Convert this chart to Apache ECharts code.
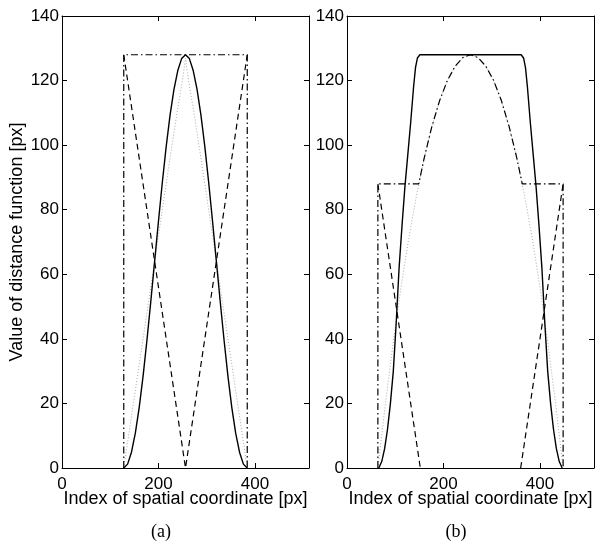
<!DOCTYPE html>
<html>
<head>
<meta charset="utf-8">
<script src="https://cdn.jsdelivr.net/npm/echarts@6/dist/echarts.min.js"></script>
<style>
  html, body { margin: 0; padding: 0; background: #fff; }
  #chart { width: 598px; height: 543px; }
</style>
</head>
<body>
<div id="chart"></div>
<script>
// ---- Panel (a) ----
const aSolidX = [128,136,144,152,160,168,176,184,192,200,208,216,224,232,240,248,256,264,272,280,288,296,304,312,320,328,336,344,352,360,368,376,384];
const aSolidY = [0,1.2,4.9,10.8,18.7,28.4,39.5,51.5,64,76.5,88.5,99.6,109.3,117.2,123.1,126.8,128,126.8,123.1,117.2,109.3,99.6,88.5,76.5,64,51.5,39.5,28.4,18.7,10.8,4.9,1.2,0];
const aDotX = [128,144,160,176,192,208,224,240,248,252,256,260,264,272,288,304,320,336,352,368,384];
const aDotY = [0,16,32,48,64,80,96,111.5,118.5,122.5,127,122.5,118.5,111.5,96,80,64,48,32,16,0];
const aDashX = [128,256,384];
const aDashY = [128,0,128];
const aDashDotX = [128,128,384,384];
const aDashDotY = [0,128,128,0];

// ---- Panel (b) ----
const bSolidX = [66,72,78,84,90,96,102,108,114,120,126,132,138,142,146,151,361,366,370,374,380,386,392,398,404,410,416,422,428,434,440,446];
const bSolidY = [0,2,6,12,20,30,45,62,75,87,97,107,118,124,127,128,128,127,124,118,107,97,87,75,62,45,30,20,12,6,2,0];
const bDotX = [64,80,96,112,128,144,160,176,192,208,224,240,256,272,288,304,320,336,352,368,384,400,416,432,448];
const bDotY = [0,20.4,39.1,56,71.1,84.4,96,105.8,113.8,120,124.4,127.1,128,127.1,124.4,120,113.8,105.8,96,84.4,71.1,56,39.1,20.4,0];
const bDashLeftX = [64,152];
const bDashLeftY = [88,0];
const bDashRightX = [360,448];
const bDashRightY = [0,88];
const bDashDotX = [64,64,148.7,160,176,192,208,224,240,256,272,288,304,320,336,352,363.3,448,448];
const bDashDotY = [0,88,88,96,105.8,113.8,120,124.4,127.1,128,127.1,124.4,120,113.8,105.8,96,88,88,0];

// Axis settings
const xMin = 0, xMax = 512, xStep = 200;
const yMin = 0, yMax = 140, yStep = 20;
const xTitle = 'Index of spatial coordinate [px]';
const yTitle = 'Value of distance function [px]';
const panelTags = ['(a)', '(b)'];

const FONT = 'Liberation Sans, Arial, Helvetica, sans-serif';
const zip = (xs, ys) => xs.map((x, i) => [x, ys[i]]);

const chart = echarts.init(document.getElementById('chart'), null, { renderer: 'canvas' });

const grids = [
  { left: 62, top: 16, width: 247, height: 452 },
  { left: 347, top: 16, width: 247, height: 452 }
];

const TICK_LEN = 5;

// Box-style axes: labelled bottom/left, tick-only top/right, all ticks pointing inward
function xAx(gi, pos, withLabels) {
  return {
    type: 'value', gridIndex: gi, position: pos, min: xMin, max: xMax, interval: xStep,
    axisLine: { show: true, onZero: false, lineStyle: { color: '#000', width: 1 } },
    axisTick: { show: true, inside: true, length: TICK_LEN, lineStyle: { color: '#000', width: 1 } },
    axisLabel: { show: withLabels, showMaxLabel: false, color: '#000', fontFamily: FONT, fontSize: 17, margin: 8 },
    splitLine: { show: false },
    name: withLabels ? xTitle : '',
    nameLocation: 'middle', nameGap: 22, nameMoveOverlap: false,
    nameTextStyle: { color: '#000', fontFamily: FONT, fontSize: 18 }
  };
}
function yAx(gi, pos, withLabels, withName) {
  return {
    type: 'value', gridIndex: gi, position: pos, min: yMin, max: yMax, interval: yStep,
    axisLine: { show: true, onZero: false, lineStyle: { color: '#000', width: 1 } },
    axisTick: { show: true, inside: true, length: TICK_LEN, lineStyle: { color: '#000', width: 1 } },
    axisLabel: { show: withLabels, color: '#000', fontFamily: FONT, fontSize: 17, margin: 3 },
    splitLine: { show: false },
    name: withName ? yTitle : '',
    nameLocation: 'middle', nameGap: 36, nameMoveOverlap: false,
    nameTextStyle: { color: '#000', fontFamily: FONT, fontSize: 18 }
  };
}

const solid = { color: '#000', width: 1.4, type: 'solid' };
const dashed = { color: '#000', width: 1.2, type: [6, 4] };
const dashDot = { color: '#000', width: 1.2, type: [7, 3, 1.5, 3] };
const dotted = { color: '#a8a8a8', width: 1, type: [1, 2] };

function line(xi, yi, data, style) {
  return {
    type: 'line', xAxisIndex: xi, yAxisIndex: yi, data: data,
    showSymbol: false, symbol: 'none', smooth: false, lineStyle: style,
    silent: true, animation: false
  };
}

const tagFont = '18px "Liberation Serif", "Times New Roman", serif';

chart.setOption({
  animation: false,
  backgroundColor: '#fff',
  grid: grids,
  xAxis: [xAx(0, 'bottom', true), xAx(0, 'top', false), xAx(1, 'bottom', true), xAx(1, 'top', false)],
  yAxis: [yAx(0, 'left', true, true), yAx(0, 'right', false, false), yAx(1, 'left', true, false), yAx(1, 'right', false, false)],
  series: [
    line(0, 0, zip(aDotX, aDotY), dotted),
    line(0, 0, zip(aSolidX, aSolidY), solid),
    line(0, 0, zip(aDashX, aDashY), dashed),
    line(0, 0, zip(aDashDotX, aDashDotY), dashDot),
    line(2, 2, zip(bDotX, bDotY), dotted),
    line(2, 2, zip(bSolidX, bSolidY), solid),
    line(2, 2, zip(bDashLeftX, bDashLeftY), dashed),
    line(2, 2, zip(bDashRightX, bDashRightY), dashed),
    line(2, 2, zip(bDashDotX, bDashDotY), dashDot)
  ],
  graphic: [
    { type: 'text', x: 161, y: 532, style: { text: panelTags[0], fill: '#000', font: tagFont, align: 'center', verticalAlign: 'middle' } },
    { type: 'text', x: 456, y: 532, style: { text: panelTags[1], fill: '#000', font: tagFont, align: 'center', verticalAlign: 'middle' } }
  ]
});
</script>
</body>
</html>
